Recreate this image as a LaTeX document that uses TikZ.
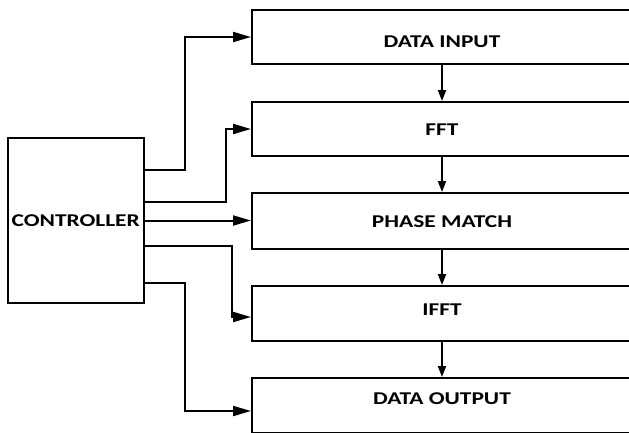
\documentclass[tikz,border=0pt]{standalone}
\usepackage{fontspec}
\setmainfont{Carlito}
\usetikzlibrary{arrows.meta}
\newcommand{\blocktext}[1]{\scalebox{1.3}[1]{\bfseries #1}}
\newcommand{\movetext}[2]{\vphantom{A}\smash{\raisebox{#1}{\blocktext{#2}}}}
\begin{document}
\begin{tikzpicture}[x=1pt,y=-1pt,line width=2pt,
  block/.style={draw,rectangle,minimum width=380pt,minimum height=55pt,inner sep=0pt,font=\fontsize{18}{20}\selectfont},
  ctrlbox/.style={draw,rectangle,minimum width=136pt,minimum height=165pt,inner sep=0pt,font=\fontsize{18}{20}\selectfont},
  arr/.style={-{Triangle[length=18pt,width=10pt]}},
  varr/.style={-{Triangle[length=11pt,width=8pt]}}]
\useasboundingbox (0,0) rectangle (629,432);
\clip (0,0) rectangle (629,432);
% blocks on the right
\node[block,minimum height=54pt] (din) at (442,37) {\movetext{-5pt}{DATA INPUT}};
\node[block,minimum height=54pt] (fft) at (442,129) {\movetext{-1pt}{FFT}};
\node[block,minimum height=56pt] (pm) at (442,221) {\movetext{-1pt}{PHASE MATCH}};
\node[block] (ifft) at (442,313.5) {\movetext{4pt}{IFFT}};
\node[block] (dout) at (442,405.5) {\movetext{7pt}{DATA OUTPUT}};
% controller
\node[ctrlbox] (ctrl) at (75.75,220.5) {\blocktext{CONTROLLER}};
% chain
\draw[varr] (din.south) -- (fft.north);
\draw[varr] (fft.south) -- (pm.north);
\draw[varr] (pm.south) -- (ifft.north);
\draw[varr] (ifft.south) -- (dout.north);
% control lines
\draw[arr] ([yshift=50.5pt]ctrl.east) -- ++(40.25,0) |- (din.west);
\draw[arr] ([yshift=18.5pt]ctrl.east) -- ++(81.25,0) |- (fft.west);
\draw[arr] (ctrl.east) -- (ctrl.east -| pm.west);
\draw[arr] ([yshift=-25.5pt]ctrl.east) -- ++(86.75,0) |- ([yshift=-3.5pt]ifft.west);
\draw[arr] ([yshift=-62.5pt]ctrl.east) -- ++(40.25,0) |- ([yshift=-5.5pt]dout.west);
\end{tikzpicture}
\end{document}
